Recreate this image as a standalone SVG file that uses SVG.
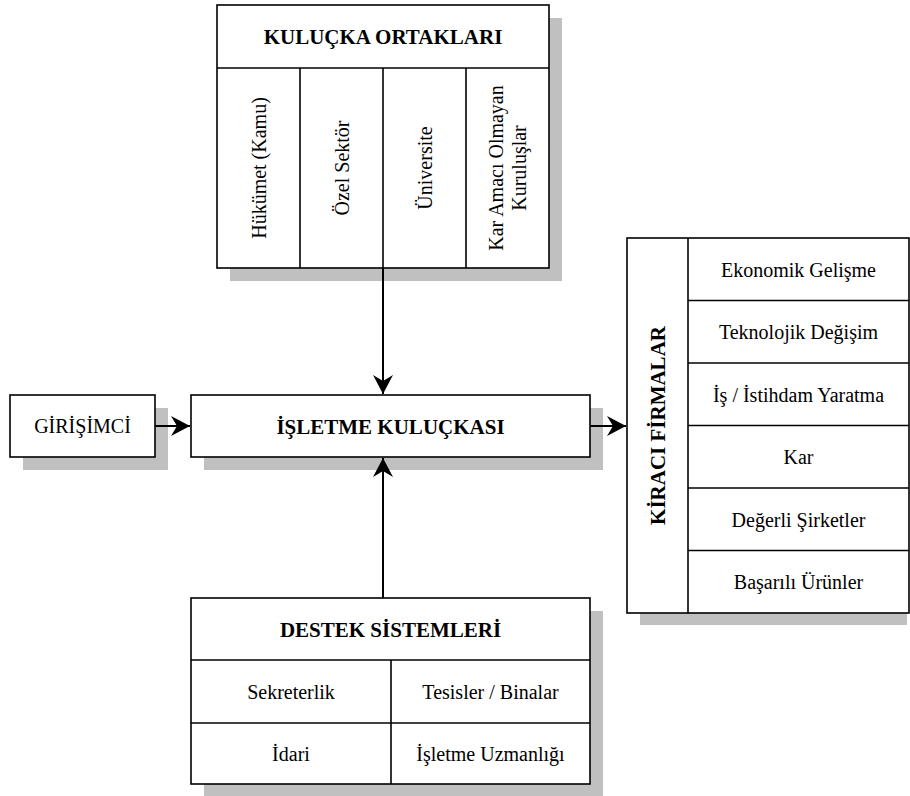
<svg xmlns="http://www.w3.org/2000/svg" width="910" height="796" viewBox="0 0 910 796">
<style>
.box{fill:#fff;stroke:#000;stroke-width:1.6}
.shadow{fill:#c0c0c0;stroke:none}
.ln{stroke:#000;stroke-width:1.6;fill:none}
.t{font-family:"Liberation Serif","Times New Roman",serif;font-size:20px;fill:#000;text-anchor:middle}
.b{font-weight:bold;font-size:21px}
.conn{stroke:#000;stroke-width:2;fill:none}
</style>
<defs>
<marker id="arr" markerUnits="userSpaceOnUse" markerWidth="22" markerHeight="22" viewBox="-20 -11 22 22" refX="0" refY="0" orient="auto">
<path d="M0,0 L-19,-10 L-13,0 L-19,10 Z" fill="#000"/>
</marker>
</defs>
<rect x="0" y="0" width="910" height="796" fill="#fff"/>

<g id="kulucka-ortaklari">
<rect class="shadow" x="230" y="18" width="332" height="263"/>
<rect class="box" x="217" y="5" width="332" height="263"/>
<line class="ln" x1="217" y1="68" x2="549" y2="68"/>
<line class="ln" x1="300" y1="68" x2="300" y2="268"/>
<line class="ln" x1="383" y1="68" x2="383" y2="268"/>
<line class="ln" x1="466" y1="68" x2="466" y2="268"/>
<text class="t b" x="383" y="43.5">KULUÇKA ORTAKLARI</text>
<text class="t" transform="translate(258.5,168) rotate(-90)" x="0" y="7">Hükümet (Kamu)</text>
<text class="t" transform="translate(341.5,168) rotate(-90)" x="0" y="7">Özel Sektör</text>
<text class="t" transform="translate(424.5,168) rotate(-90)" x="0" y="7">Üniversite</text>
<text class="t" transform="translate(507.5,168) rotate(-90)" x="0" y="-4.5">Kar Amacı Olmayan</text>
<text class="t" transform="translate(507.5,168) rotate(-90)" x="0" y="18.5">Kuruluşlar</text>
</g>

<g id="girisimci">
<rect class="shadow" x="23" y="408" width="145" height="62"/>
<rect class="box" x="10" y="395" width="145" height="62"/>
<text class="t" x="82.5" y="433">GİRİŞİMCİ</text>
</g>

<g id="isletme-kulucka">
<rect class="shadow" x="204" y="408" width="399" height="62"/>
<rect class="box" x="191" y="395" width="399" height="62"/>
<text class="t b" x="390.5" y="433.5">İŞLETME KULUÇKASI</text>
</g>

<g id="kiraci-firmalar">
<rect class="shadow" x="640" y="251" width="267" height="374"/>
<rect class="box" x="627" y="238" width="282" height="375"/>
<line class="ln" x1="688" y1="238" x2="688" y2="613"/>
<line class="ln" x1="688" y1="300.5" x2="909" y2="300.5"/>
<line class="ln" x1="688" y1="363" x2="909" y2="363"/>
<line class="ln" x1="688" y1="425.5" x2="909" y2="425.5"/>
<line class="ln" x1="688" y1="488" x2="909" y2="488"/>
<line class="ln" x1="688" y1="550.5" x2="909" y2="550.5"/>
<text class="t b" transform="translate(657.5,425.5) rotate(-90)" x="0" y="7.5">KİRACI FİRMALAR</text>
<text class="t" x="798.5" y="276.5">Ekonomik Gelişme</text>
<text class="t" x="798.5" y="339">Teknolojik Değişim</text>
<text class="t" x="798.5" y="401.5">İş / İstihdam Yaratma</text>
<text class="t" x="798.5" y="464">Kar</text>
<text class="t" x="798.5" y="526.5">Değerli Şirketler</text>
<text class="t" x="798.5" y="589">Başarılı Ürünler</text>
</g>

<g id="destek-sistemleri">
<rect class="shadow" x="204" y="611" width="399" height="185"/>
<rect class="box" x="191" y="598" width="399" height="186"/>
<line class="ln" x1="191" y1="660" x2="590" y2="660"/>
<line class="ln" x1="191" y1="723" x2="590" y2="723"/>
<line class="ln" x1="391" y1="660" x2="391" y2="784"/>
<text class="t b" x="390.5" y="636.5">DESTEK SİSTEMLERİ</text>
<text class="t" x="291" y="698.5">Sekreterlik</text>
<text class="t" x="490.5" y="698.5">Tesisler / Binalar</text>
<text class="t" x="291" y="760.5">İdari</text>
<text class="t" x="490.5" y="760.5">İşletme Uzmanlığı</text>
</g>

<g id="connectors">
<line class="conn" x1="155" y1="426" x2="190" y2="426" marker-end="url(#arr)"/>
<line class="conn" x1="590" y1="426" x2="626" y2="426" marker-end="url(#arr)"/>
<line class="conn" x1="383" y1="268" x2="383" y2="394" marker-end="url(#arr)"/>
<line class="conn" x1="383" y1="598" x2="383" y2="458" marker-end="url(#arr)"/>
</g>
</svg>
